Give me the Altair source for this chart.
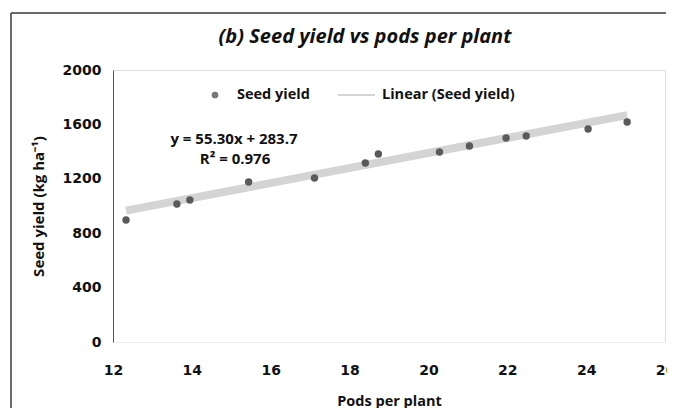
import altair as alt
import pandas as pd

# Data
pods_per_plant = [12.33, 13.62, 13.95, 15.44, 17.11, 18.40, 18.73, 20.28, 21.04, 21.97, 22.48, 24.05, 25.04]
seed_yield = [897, 1015, 1044, 1176, 1206, 1316, 1382, 1397, 1441, 1500, 1515, 1566, 1618]
slope = 55.30
intercept = 283.7
x_ticks = [12, 14, 16, 18, 20, 22, 24, 26]
y_ticks = [0, 400, 800, 1200, 1600, 2000]
title_text = "(b) Seed yield vs pods per plant"
eq_text = "y = 55.30x + 283.7"
r2_text = "R² = 0.976"
legend_labels = ["Seed yield", "Linear (Seed yield)"]

pts = pd.DataFrame({"pods": pods_per_plant, "yield": seed_yield})
xmin, xmax = min(pods_per_plant), max(pods_per_plant)
trend = pd.DataFrame({"pods": [xmin, xmax],
                      "yield": [slope * xmin + intercept, slope * xmax + intercept]})

LBL = "DejaVu Sans"
TXT = "Open Sans"

xscale = alt.Scale(domain=[12, 26], nice=False, zero=False)
yscale = alt.Scale(domain=[0, 2000], nice=False)

xaxis = alt.Axis(title="Pods per plant", values=x_ticks, format="d", grid=False, ticks=False, tickSize=0,
                 labelPadding=21, labelFont=LBL, labelFontSize=14, labelFontWeight="bold",
                 labelColor="#111", domainColor="#ececec", domainWidth=1,
                 titleFont=TXT, titleFontSize=14.5, titleFontWeight="bold", titleColor="#111",
                 titlePadding=17, labelFlush=False, labelOverlap=False)
yaxis = alt.Axis(title="Seed yield (kg ha⁻¹)", values=y_ticks, format="d", grid=False, ticks=False, tickSize=0,
                 labelPadding=12, labelFont=LBL, labelFontSize=14, labelFontWeight="bold",
                 labelColor="#111", domainColor="#555", domainWidth=1,
                 titleFont=TXT, titleFontSize=15, titleFontWeight="bold", titleColor="#111",
                 titlePadding=16, labelFlush=False)

one = pd.DataFrame({"k": [0]})

# outer figure frame (only the top and left edges fall inside the picture)
frame_top = alt.Chart(one).mark_rule(color="#3a3a3a", strokeWidth=1.5, clip=False).encode(
    x=alt.value(-102), x2=alt.value(553), y=alt.value(-57))
frame_left = alt.Chart(one).mark_rule(color="#3a3a3a", strokeWidth=1.5, clip=False).encode(
    x=alt.value(-102), y=alt.value(-57), y2=alt.value(340))

line = alt.Chart(trend).mark_line(color="#d4d4d4", strokeWidth=8, strokeCap="butt").encode(
    x=alt.X("pods:Q", scale=xscale, axis=xaxis),
    y=alt.Y("yield:Q", scale=yscale, axis=yaxis),
)

points = alt.Chart(pts).mark_circle(color="#5a5a5a", opacity=1, size=55).encode(
    x=alt.X("pods:Q", scale=xscale),
    y=alt.Y("yield:Q", scale=yscale),
)

def label(text, x, y, size, align="left", style="normal"):
    return alt.Chart(one).mark_text(
        text=text, align=align, baseline="middle", font=TXT, fontSize=size,
        fontWeight="bold", fontStyle=style, color="#111"
    ).encode(x=alt.value(x), y=alt.value(y))

title = label(title_text, 252, -33, 20, align="center", style="italic")
legend_dot = alt.Chart(one).mark_circle(color="#777", opacity=1, size=45).encode(
    x=alt.value(102), y=alt.value(25))
legend_line = alt.Chart(one).mark_rule(color="#d4d4d4", strokeWidth=2).encode(
    x=alt.value(225), x2=alt.value(262), y=alt.value(25))
legend_t1 = label(legend_labels[0], 124, 25, 14.5)
legend_t2 = label(legend_labels[1], 269, 25, 14.5)
eq1 = label(eq_text, 121, 69, 15, align="center")
eq2 = label(r2_text, 122, 89, 15, align="center")

chart = alt.layer(
    frame_top, frame_left, line, points, title, legend_dot, legend_line,
    legend_t1, legend_t2, eq1, eq2
).properties(
    width=552, height=272,
    autosize=alt.AutoSizeParams(type="none"),
    padding={"left": 105, "top": 62, "right": 2, "bottom": 66},
).configure_view(stroke=None).configure(background="white")

chart.save("out.html", embed_options={"renderer": "svg", "actions": False})
